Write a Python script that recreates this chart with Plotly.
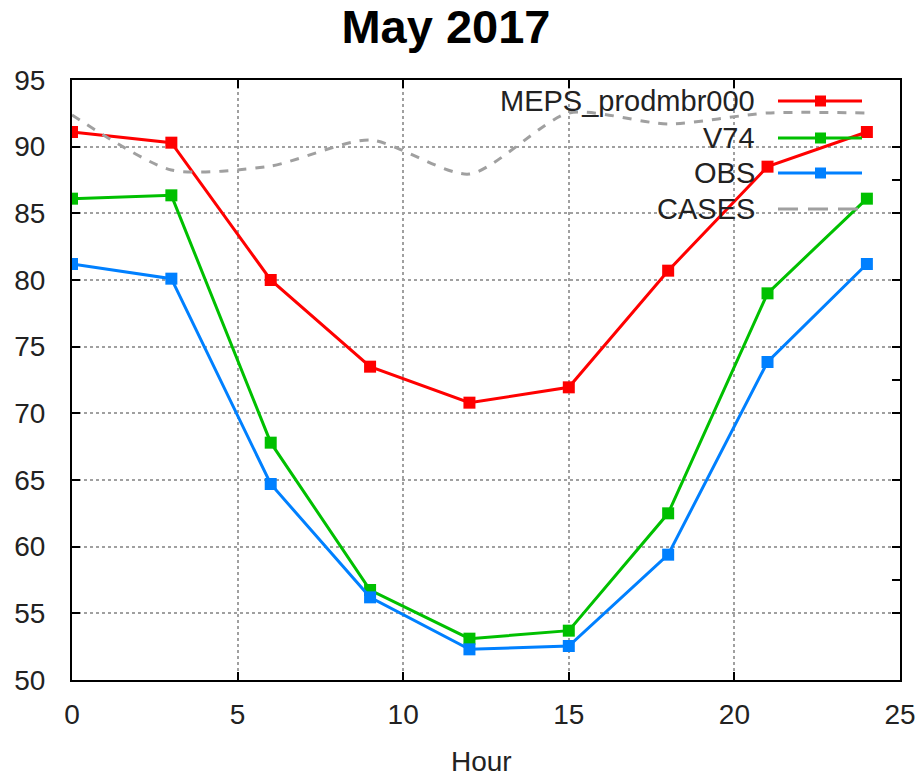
import plotly.graph_objects as go

hours = [0, 3, 6, 9, 12, 15, 18, 21, 24]
meps = [91.1, 90.3, 80.0, 73.5, 70.8, 71.95, 80.7, 88.5, 91.1]
v74 = [86.1, 86.35, 67.8, 56.75, 53.1, 53.7, 62.5, 79.0, 86.1]
obs = [81.2, 80.1, 64.7, 56.2, 52.3, 52.55, 59.4, 73.85, 81.2]
cases = [33.25, 30.5, 30.7, 32.0, 30.3, 33.35, 32.8, 33.35, 33.35]

series = [
    ("MEPS_prodmbr000", meps, "#ff0000"),
    ("V74", v74, "#00c000"),
    ("OBS", obs, "#0080ff"),
]
GRAY = "#a0a0a0"
FONT = "Liberation Sans"
TXT = "#222222"

fig = go.Figure()
fig.add_trace(go.Scatter(x=hours, y=cases, yaxis="y2", mode="lines",
                         line=dict(color=GRAY, width=3, dash="dash", shape="spline", smoothing=0.7),
                         name="CASES", showlegend=False))
for name, vals, col in series:
    fig.add_trace(go.Scatter(x=hours, y=vals, mode="lines+markers", name=name,
                             line=dict(color=col, width=3),
                             marker=dict(symbol="square", size=12, color=col),
                             showlegend=False))

# plot area geometry in pixels
L, R, T, B = 72, 900, 80, 680
W, H = R - L, B - T
def px(xp):
    return (xp - L) / W
def py(yp):
    return (B - yp) / H

shapes = [dict(type="rect", xref="paper", yref="paper", x0=px(485), x1=px(880), y0=py(226), y1=1,
               fillcolor="white", line=dict(width=0), layer="between")]
annotations = []
legend_rows = [("MEPS_prodmbr000", "#ff0000", 101, True, "solid"),
               ("V74", "#00c000", 138, True, "solid"),
               ("OBS", "#0080ff", 173, True, "solid"),
               ("CASES", GRAY, 209, False, "20px,10px")]
for name, col, yy, mk, dash in legend_rows:
    annotations.append(dict(text=name, xref="paper", yref="paper", x=px(757), y=py(yy),
                            xanchor="right", yanchor="middle", showarrow=False,
                            font=dict(family=FONT, size=29, color=TXT)))
    shapes.append(dict(type="line", xref="paper", yref="paper", x0=px(778), x1=px(862),
                       y0=py(yy), y1=py(yy), line=dict(color=col, width=3, dash=dash), layer="above"))
    if mk:
        shapes.append(dict(type="rect", xref="paper", yref="paper", x0=px(815), x1=px(826),
                           y0=py(yy + 5.5), y1=py(yy - 5.5), fillcolor=col, line=dict(width=0),
                           layer="above"))

annotations.append(dict(text="Hour", xref="paper", yref="paper", x=px(481), y=py(761),
                        xanchor="center", yanchor="middle", showarrow=False,
                        font=dict(family=FONT, size=28, color=TXT)))

fig.update_layout(
    width=917, height=776, autosize=False,
    margin=dict(l=L, r=917 - R, t=T, b=776 - B, autoexpand=False),
    paper_bgcolor="white", plot_bgcolor="white",
    title=dict(text="<b>May 2017</b>", x=446 / 917, xanchor="center", xref="container",
               y=1 - 27 / 776, yref="container", yanchor="middle", automargin=False,
               font=dict(family=FONT, size=47, color="black")),
    xaxis=dict(range=[0, 25], tickvals=[0, 5, 10, 15, 20, 25], showline=True, linecolor="black",
               linewidth=2, mirror="ticks", ticks="inside", ticklen=8, tickwidth=2, tickcolor="black",
               showgrid=True, gridcolor=GRAY, griddash="dot", gridwidth=1.5, zeroline=False,
               tickfont=dict(family=FONT, size=28, color=TXT), ticklabelstandoff=8,
               automargin=False),
    yaxis=dict(range=[50, 95], tickvals=[50, 55, 60, 65, 70, 75, 80, 85, 90, 95], showline=True,
               linecolor="black", linewidth=2, mirror="ticks", ticks="inside", ticklen=8, tickwidth=2,
               tickcolor="black", showgrid=True, gridcolor=GRAY, griddash="dot", gridwidth=1.5,
               zeroline=False, tickfont=dict(family=FONT, size=28, color=TXT),
               ticklabelstandoff=19, automargin=False),
    yaxis2=dict(range=[5, 35], tickvals=[10, 20, 30], overlaying="y", side="right",
                showticklabels=False, ticks="inside", ticklen=8, tickwidth=2, tickcolor="black",
                showgrid=False, zeroline=False, showline=False, automargin=False),
    shapes=shapes, annotations=annotations, showlegend=False,
)
fig.write_html("out.html")
